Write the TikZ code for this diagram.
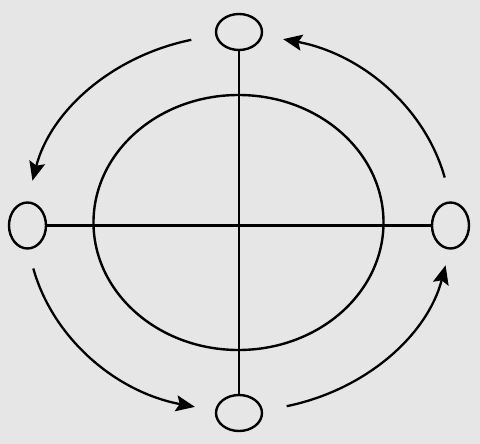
\documentclass[tikz,border=0pt]{standalone}
\usetikzlibrary{arrows.meta,shapes.geometric}
\definecolor{bgc}{RGB}{230,230,230}
\begin{document}
\begin{tikzpicture}[x=1pt,y=-1pt,
  small/.style={draw=black,line width=2.4pt,ellipse,inner sep=0pt},
  hsmall/.style={small,minimum width=46pt,minimum height=36pt},
  vsmall/.style={small,minimum width=37pt,minimum height=46pt},
  axis/.style={draw=black,line width=2.3pt},
  flow/.style={draw=black,line width=2.3pt,-{Stealth[length=19pt,width=16pt,inset=3.5pt]}}]
\fill[bgc] (0,0) rectangle (480,444);
\useasboundingbox (0,0) rectangle (480,444);
\node[draw=black,line width=2.4pt,ellipse,inner sep=0pt,minimum width=290pt,minimum height=255pt] (big) at (238.5,222.5) {};
\node[hsmall] (top) at (239,32) {};
\node[hsmall] (bot) at (239,413) {};
\node[vsmall] (lft) at (27.5,225.5) {};
\node[vsmall] (rgt) at (450.5,225.5) {};
\draw[axis] (top.south) -- (bot.north);
\draw[axis] (lft.east) -- (rgt.west);
\coordinate (c) at (239,223);
\draw[flow] ([shift={(-103:212 and 188)}]c) arc[start angle=-103,end angle=-167,x radius=212,y radius=188];
\draw[flow] ([shift={(-194:212 and 188)}]c) arc[start angle=-194,end angle=-258,x radius=212,y radius=188];
\draw[flow] ([shift={(-283:212 and 188)}]c) arc[start angle=-283,end angle=-347,x radius=212,y radius=188];
\draw[flow] ([shift={(-14:212 and 188)}]c) arc[start angle=-14,end angle=-78,x radius=212,y radius=188];
\end{tikzpicture}
\end{document}
